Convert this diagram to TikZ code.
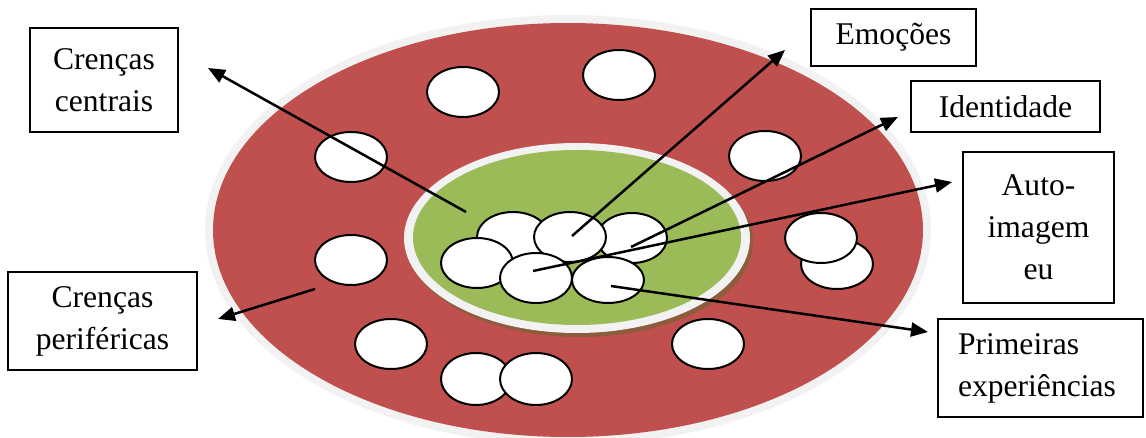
\documentclass[tikz,border=0pt]{standalone}
\usepackage{fontspec}
\setmainfont{Liberation Serif}
\usetikzlibrary{arrows.meta}
\definecolor{outred}{RGB}{192,80,77}
\definecolor{ringgray}{RGB}{242,242,242}
\definecolor{ingreen}{RGB}{155,187,89}
\definecolor{shadowbrown}{RGB}{140,92,60}
\tikzset{
  blob/.style={draw=black, fill=white, line width=2pt},
  labelbox/.style={draw=black, line width=2pt, fill=white, inner sep=0pt, font=\fontsize{31.6}{42}\selectfont},
  pointer/.style={line width=2.5pt, -{Triangle[length=17pt,width=14pt]}},
}
\begin{document}
\begin{tikzpicture}[x=1pt,y=-1pt]
\useasboundingbox (0,0) rectangle (1146,438);
\clip (0,0) rectangle (1146,438);
% outer disk
\fill[ringgray] (568,230) ellipse [x radius=363, y radius=215];
\fill[outred] (568,230) ellipse [x radius=355, y radius=207];
% inner disk
\fill[shadowbrown] (580,242) ellipse [x radius=173, y radius=95];
\fill[ringgray] (577,238) ellipse [x radius=173, y radius=95];
\fill[ingreen] (577,237.5) ellipse [x radius=164, y radius=87.5];
% peripheral beliefs
\draw[blob] (463,92) ellipse [x radius=36, y radius=25];
\draw[blob] (619,75) ellipse [x radius=36, y radius=25];
\draw[blob] (351,157) ellipse [x radius=36, y radius=25];
\draw[blob] (765,156) ellipse [x radius=36, y radius=25];
\draw[blob] (351,260) ellipse [x radius=36, y radius=25];
\draw[blob] (837,264) ellipse [x radius=36, y radius=25];
\draw[blob] (821,238) ellipse [x radius=36, y radius=25];
\draw[blob] (708,344) ellipse [x radius=36, y radius=25];
\draw[blob] (391,344) ellipse [x radius=36, y radius=25];
\draw[blob] (476,379) ellipse [x radius=35, y radius=26];
\draw[blob] (536,379) ellipse [x radius=36, y radius=26];
% central cluster
\draw[blob] (513,237) ellipse [x radius=36, y radius=25];
\draw[blob] (632,238) ellipse [x radius=35, y radius=25];
\draw[blob] (570,237) ellipse [x radius=36, y radius=25];
\draw[blob] (477,263) ellipse [x radius=36, y radius=25];
\draw[blob] (536,278) ellipse [x radius=36, y radius=25];
\draw[blob] (608,280) ellipse [x radius=36, y radius=23];
% label boxes
\node[labelbox, minimum width=148pt, minimum height=104pt, align=center] (cc) at (104,80) {Crenças\\centrais};
\node[labelbox, minimum width=189pt, minimum height=98pt, align=center] (cp) at (102.5,321) {Crenças\\periféricas};
\node[labelbox, minimum width=165pt, minimum height=57pt] (em) at (893.5,37.5) {Emoções};
\node[labelbox, minimum width=189pt, minimum height=51pt] (id) at (1005.5,106.5) {Identidade\hspace{24pt}};
\node[labelbox, minimum width=151pt, minimum height=151pt, align=center] (ai) at (1038.5,227.5) {Auto-\\imagem\\eu};
\node[labelbox, minimum width=205pt, minimum height=98pt, text width=165pt, align=left] (pe) at (1040.5,368) {Primeiras\\experiências};
% connector anchors
\coordinate (sCC) at (466,212);
\coordinate (tCC) at (208,68);
\coordinate (sEM) at (572,236);
\coordinate (tEM) at (785,50);
\coordinate (sID) at (631,247);
\coordinate (tID) at (898,117);
\coordinate (sAI) at (533,271);
\coordinate (tAI) at (952,182);
\coordinate (sPE) at (611,286);
\coordinate (tPE) at (928,332);
\coordinate (sCP) at (315,289);
\coordinate (tCP) at (218,319);
\draw[pointer] (sCC) -- (tCC);
\draw[pointer] (sEM) -- (tEM);
\draw[pointer] (sID) -- (tID);
\draw[pointer] (sAI) -- (tAI);
\draw[pointer] (sPE) -- (tPE);
\draw[pointer] (sCP) -- (tCP);
\end{tikzpicture}
\end{document}
